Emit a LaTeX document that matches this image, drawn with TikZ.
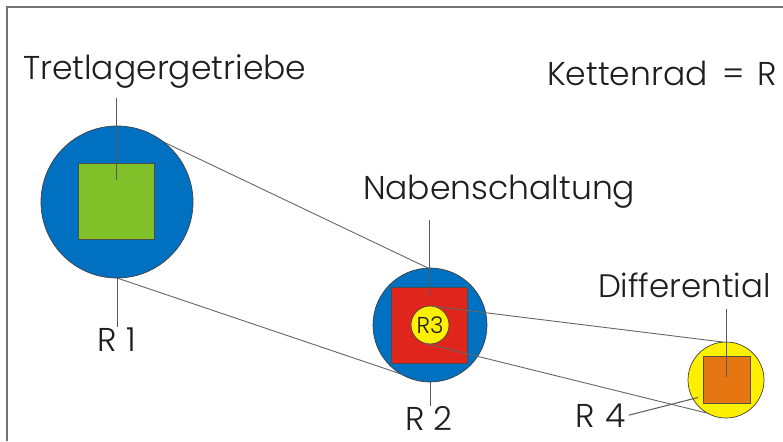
\documentclass[tikz,border=0pt]{standalone}
\usepackage{fontspec}
\setmainfont{Poppins}[UprightFont=* Light]
\usetikzlibrary{calc,backgrounds}
\definecolor{cblue}{RGB}{0,112,192}
\definecolor{cgreen}{RGB}{128,192,40}
\definecolor{cred}{RGB}{224,38,28}
\definecolor{cyellow}{RGB}{255,240,0}
\definecolor{corange}{RGB}{230,118,18}
\definecolor{ctext}{RGB}{30,30,30}
\begin{document}
\begin{tikzpicture}[x=1pt,y=-1pt,
  lbl/.style={font=\fontsize{33}{40}\selectfont, text=ctext, inner sep=0pt, outer sep=0pt},
  wheel/.style={circle, draw=black!75, line width=0.7pt, inner sep=0pt, outer sep=0pt},
  hub/.style={rectangle, draw=black!70, line width=0.8pt, inner sep=0pt, outer sep=0pt},
  belt/.style={draw=black!60, line width=0.9pt},
  lead/.style={draw=black!65, line width=1pt}]
\useasboundingbox (0,0) rectangle (783,441);
% wheels and hubs
\node[wheel, fill=cblue, minimum size=152pt] (circA) at (117,202) {};
\node[hub, fill=cgreen, minimum size=76pt] (sqA) at (116,201) {};
\node[wheel, fill=cblue, minimum size=114pt] (circB) at (430,325) {};
\node[hub, fill=cred, minimum size=76pt] (sqB) at (429,325) {};
\node[wheel, fill=cyellow, minimum size=38pt, font=\fontsize{23}{26}\selectfont, text=ctext] (r3) at (430,325) {R3};
\node[wheel, fill=cyellow, minimum size=76pt] (circC) at (726,380) {};
\node[hub, fill=corange, minimum size=47pt] (sqC) at (726.5,380) {};
% labels
\node[lbl, anchor=base west] (tret) at (23,80) {Tretlagergetriebe};
\node[lbl, anchor=base west] (kette) at (547,85) {Kettenrad\hspace{6pt} = \hspace{3pt}R};
\node[lbl, anchor=base west] (naben) at (363,199) {Nabenschaltung};
\node[lbl, anchor=base west, font=\fontsize{32.5}{36}\selectfont] (diff) at (598,297) {Differential};
\node[lbl, anchor=base] (r1) at (117,351) {R 1};
\node[lbl, anchor=base] (r2) at (429,430) {R 2};
\node[lbl, anchor=base west] (r4) at (575,427) {R\hspace{2pt} 4};
% background and belts behind the wheels
\begin{scope}[on background layer]
  \fill[white] (0,0) rectangle (783,441);
  \draw[belt] (circA.52.5) -- (circB.92);
  \draw[belt] (circA.270) -- (circB.239);
\end{scope}
\draw[draw=black!55, line width=1.5pt] (7,441) -- (7,7) -- (783,7);
% belts from R3 to the differential wheel
\draw[belt] (r3.84) -- (circC.94.5);
\draw[belt] (r3.254.5) -- (circC.241.5);
% leader lines
\draw[lead] ($(sqA.center |- tret.south)+(0,9)$) -- ($(sqA.center)+(0,-21)$);
\draw[lead] (circA.south) -- (circA.south |- r1.north);
\draw[lead] ($(sqB.center |- naben.south)+(0,12)$) -- ($(sqB.center)+(0,-28)$);
\draw[lead] (circB.south) -- (circB.south |- r2.north);
\draw[lead] ($(sqC.center |- diff.south)+(0,12)$) -- ($(sqC.center)+(0,-3)$);
\draw[lead] ($(r4.east)+(3,0)$) -- ($(sqC.south west)+(-5,-6)$);
\end{tikzpicture}
\end{document}
